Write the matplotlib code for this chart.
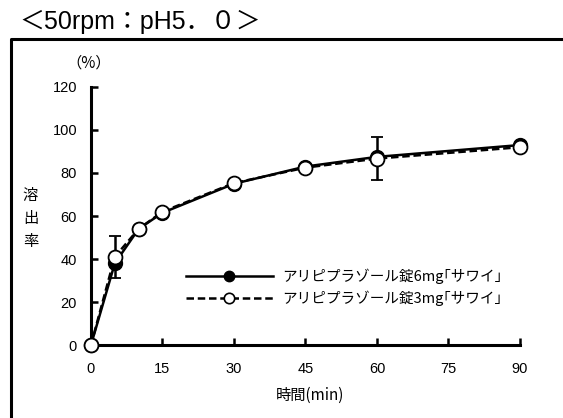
import matplotlib
matplotlib.use("Agg")
import matplotlib.pyplot as plt
from matplotlib.lines import Line2D

plt.rcParams['font.family'] = ['Noto Sans CJK JP', 'DejaVu Sans']
latin_first = ['Liberation Sans', 'Noto Sans CJK JP']

# dissolution profile data
times = [0, 5, 10, 15, 30, 45, 60, 90]
tab_6mg = [0, 38, 54, 61.5, 75, 83, 87.5, 93]
tab_3mg = [0, 41, 54, 62, 75.3, 82.5, 86.7, 92]
err_3mg = [0, 9.7, 0, 0, 0, 0, 10, 0]

label_6mg = "アリピプラゾール錠6mg｢サワイ｣"
label_3mg = "アリピプラゾール錠3mg｢サワイ｣"
xticks = [0, 15, 30, 45, 60, 75, 90]
yticks = [0, 20, 40, 60, 80, 100, 120]

fig = plt.figure(figsize=(5.63, 4.18), dpi=100)
ax = fig.add_axes([0.1616, 0.1746, 0.7620, 0.6173])

ax.plot(times, tab_6mg, color='black', lw=1.8, marker='o', ms=10,
        markerfacecolor='black', markeredgecolor='black', clip_on=False,
        zorder=3, label=label_6mg)
ax.errorbar(times, tab_3mg, yerr=err_3mg, color='black', lw=1.8,
            ls=(0, (3, 1.5)), marker='o', ms=10, markerfacecolor='white',
            markeredgecolor='black', markeredgewidth=1.3, ecolor='black',
            elinewidth=1.8, capsize=4, capthick=1.8, clip_on=False,
            zorder=4, label=label_3mg)

ax.set_xlim(0, 90)
ax.set_ylim(0, 120)
ax.set_xticks(xticks)
ax.set_yticks(yticks)
ax.tick_params(direction='in', length=5, width=1.8, labelsize=10.5)
ax.tick_params(axis='y', pad=10)
ax.tick_params(axis='x', pad=12)
for lab in ax.get_xticklabels() + ax.get_yticklabels():
    lab.set_family(latin_first)
for s in ['top', 'right']:
    ax.spines[s].set_visible(False)
for s in ['left', 'bottom']:
    ax.spines[s].set_linewidth(2.2)

ax.set_xlabel("時間(min)", fontsize=11, labelpad=8)
ax.xaxis.label.set_x(0.51)
fig.text(0.054, 0.478, "溶\n出\n率", fontsize=11, ha='center', va='center',
         linespacing=1.45)
fig.text(0.158, 0.85, "（%）", fontsize=11, ha='center', va='center')

h1 = Line2D([], [], color='black', lw=1.8, marker='o', ms=7.5,
            markerfacecolor='black')
h2 = Line2D([], [], color='black', lw=1.8, ls=(0, (3, 1.5)), marker='o', ms=7.5,
            markerfacecolor='white', markeredgewidth=1.2)
ax.legend([h1, h2], [label_6mg, label_3mg], loc='center left',
          bbox_to_anchor=(0.19, 0.225), frameon=False, fontsize=10.5,
          handlelength=6.0, handletextpad=0.6, labelspacing=0.45)

fig.text(0.035, 0.947, "＜50rpm：pH5．０＞", fontsize=18, ha='left', va='center',
         family=latin_first)

# outer frame (left and top edges)
fig.add_artist(Line2D([11 / 563, 11 / 563, 1.0], [0.0, 1 - 39 / 418, 1 - 39 / 418],
                      transform=fig.transFigure, color='black', lw=2.2))

fig.savefig("out.png", dpi=100)
